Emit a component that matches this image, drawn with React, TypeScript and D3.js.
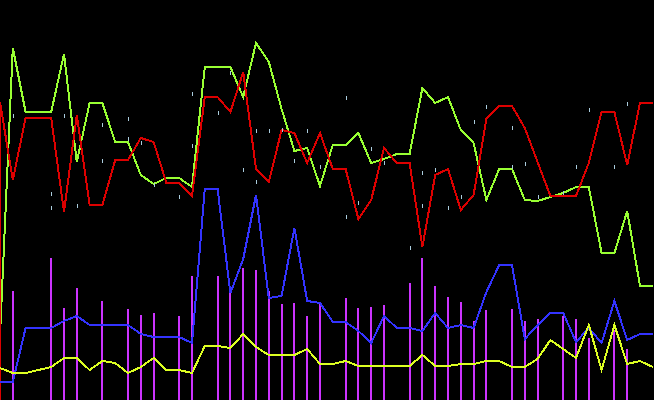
import React from "react";
import * as d3 from "d3";

const W = 654;
const H = 400;

// series values (arbitrary units, 0..400)
const green = [64, 352, 288, 288, 288, 346, 238, 297, 297, 258, 258, 225, 216, 222, 222, 213, 333, 333, 333, 303, 357, 338, 291, 249, 252, 214, 255, 255, 267, 237, 241, 246, 246, 312, 297, 303, 270, 257, 200, 231, 231, 200, 199, 203, 207, 213, 213, 147, 147, 189, 114, 114];
const redOpen = 0;
const red = [298, 220, 282, 282, 282, 188, 285, 195, 195, 240, 240, 262, 258, 217, 217, 204, 303, 303, 288, 328, 231, 218, 270, 267, 237, 267, 231, 231, 181, 200, 252, 237, 237, 153, 225, 231, 190, 205, 281, 294, 294, 272, 238, 204, 204, 204, 237, 288, 288, 235, 297, 297];
const blue = [18, 18, 72, 72, 72, 79, 84, 75, 75, 75, 75, 66, 63, 63, 63, 57, 211, 211, 107, 141, 205, 102, 104, 172, 99, 97, 78, 78, 69, 57, 84, 72, 72, 69, 87, 72, 75, 72, 108, 135, 135, 61, 75, 87, 87, 58, 72, 57, 99, 60, 66, 66];
const yellow = [32, 27, 27, 30, 33, 42, 42, 30, 39, 37, 27, 33, 42, 30, 30, 27, 54, 54, 52, 66, 53, 45, 45, 45, 51, 36, 36, 39, 34, 34, 34, 34, 34, 45, 34, 34, 36, 36, 39, 39, 33, 33, 41, 60, 51, 42, 75, 30, 75, 36, 39, 33];

// vertical bars
const barIndex = [1, 4, 5, 6, 8, 10, 11, 12, 14, 15, 17, 18, 19, 20, 21, 22, 23, 24, 25, 27, 28, 29, 30, 32, 33, 34, 35, 36, 37, 38, 40, 41, 42, 44, 45, 46, 48, 49];
const barValue = [109, 142, 92, 112, 99, 91, 85, 87, 84, 124, 124, 114, 132, 130, 109, 96, 97, 84, 98, 102, 92, 93, 95, 117, 142, 114, 103, 98, 79, 90, 91, 79, 81, 84, 81, 62, 70, 51];

// small tick marks
const tickIndex = [1, 4, 4, 5, 6, 8, 8, 10, 10, 11, 12, 14, 15, 15, 17, 18, 19, 20, 20, 21, 22, 23, 24, 25, 27, 27, 28, 29, 30, 32, 33, 33, 34, 35, 36, 37, 38, 40, 40, 41, 42, 44, 45, 46, 48, 49];
const tickValue = [284, 206, 192, 284, 194, 275, 239, 281, 261, 257, 215, 203, 306, 254, 287, 327, 230, 269, 218, 269, 270, 239, 269, 233, 302, 183, 197, 251, 237, 152, 227, 194, 230, 192, 203, 278, 293, 272, 233, 236, 203, 207, 233, 290, 233, 296];

export default function App() {
  const x = d3.scaleLinear().domain([0, 51]).range([0, 652.8]);
  const y = d3.scaleLinear().domain([0, 400]).range([H, 0]);

  const line = d3
    .line<[number, number]>()
    .x((d) => x(d[0]))
    .y((d) => y(d[1]));

  const pts = (arr: number[]): [number, number][] => arr.map((v, i) => [i, v]);
  const redPts: [number, number][] = [[0, redOpen], ...pts(red)];

  const series = [
    { pts: pts(green), color: "#99ff33" },
    { pts: redPts, color: "#dd0000" },
    { pts: pts(blue), color: "#3333ff" },
    { pts: pts(yellow), color: "#ddff22" },
  ];

  return (
    <svg
      width={W}
      height={H}
      style={{ position: "absolute", left: 0, top: 0, background: "#000", display: "block" }}
    >
      <rect x={0} y={0} width={W} height={H} fill="#000" />
      {barIndex.map((k, i) => (
        <line
          key={"b" + i}
          x1={x(k)}
          x2={x(k)}
          y1={y(barValue[i])}
          y2={y(0)}
          stroke="#cc33ff"
          strokeWidth={2}
          shapeRendering="crispEdges"
        />
      ))}
      {series.map((s, i) => (
        <path
          key={"s" + i}
          d={line(s.pts) || ""}
          fill="none"
          stroke={s.color}
          strokeWidth={2}
          strokeLinejoin="miter"
          shapeRendering="crispEdges"
        />
      ))}
      {tickIndex.map((k, i) => (
        <line
          key={"t" + i}
          x1={x(k) + 0.5}
          x2={x(k) + 0.5}
          y1={y(tickValue[i]) - 2}
          y2={y(tickValue[i]) + 2}
          stroke="#aaccdd"
          strokeWidth={1}
          shapeRendering="crispEdges"
        />
      ))}
    </svg>
  );
}
